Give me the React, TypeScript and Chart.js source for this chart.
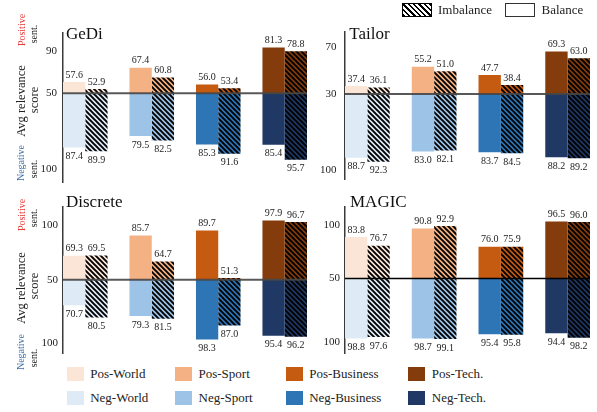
import React, { useEffect, useRef } from 'react';
import { Chart, registerables } from 'chart.js';

Chart.register(...registerables);

const FONT = '"Liberation Serif", "Times New Roman", "DejaVu Serif", serif';

// ---------- data ----------
const categories = ['World', 'Sport', 'Business', 'Tech.'];
const posColors = ['#fbe5d6', '#f4b183', '#c55a11', '#843c0c'];
const negColors = ['#deebf7', '#9dc3e6', '#2e75b6', '#1f3864'];

const gediPosBalance = [57.6, 67.4, 56.0, 81.3];
const gediPosImbalance = [52.9, 60.8, 53.4, 78.8];
const gediNegBalance = [87.4, 79.5, 85.3, 85.4];
const gediNegImbalance = [89.9, 82.5, 91.6, 95.7];
const gediTickLabels = ['100', '50', '90'];
const gediTickValues = [-52, 0, 29.2];

const tailorPosBalance = [37.4, 55.2, 47.7, 69.3];
const tailorPosImbalance = [36.1, 51.0, 38.4, 63.0];
const tailorNegBalance = [88.7, 83.0, 83.7, 88.2];
const tailorNegImbalance = [92.3, 82.1, 84.5, 89.2];
const tailorTickLabels = ['100', '30', '70'];
const tailorTickValues = [-70.5, 0, 43.4];

const discretePosBalance = [69.3, 85.7, 89.7, 97.9];
const discretePosImbalance = [69.5, 64.7, 51.3, 96.7];
const discreteNegBalance = [70.7, 79.3, 98.3, 95.4];
const discreteNegImbalance = [80.5, 81.5, 87.0, 96.2];
const discreteTickLabels = ['100', '50', '100'];
const discreteTickValues = [-51.4, 0, 44.3];

const magicPosBalance = [83.8, 90.8, 76.0, 96.5];
const magicPosImbalance = [76.7, 92.9, 75.9, 96.0];
const magicNegBalance = [98.8, 98.7, 95.4, 94.4];
const magicNegImbalance = [97.6, 99.1, 95.8, 98.2];
const magicTickLabels = ['100', '50', '100'];
const magicTickValues = [-52.1, 0, 43.5];

// ---------- panel configs ----------
type PanelCfg = {
  title: string;
  base: number;
  posBal: number[];
  posImb: number[];
  negBal: number[];
  negImb: number[];
  tickLabels: string[];
  tickValues: number[];
  yMin: number;
  yMax: number;
  x: number;
  y: number;
  w: number;
  h: number;
  pad: { top: number; bottom: number; right: number; left: number };
  axisW: number;
  tickPad: number;
  titleDx: number;
  titleDy: number;
  lineColor: string;
  lineW: number;
};

const panels: PanelCfg[] = [
  {
    title: 'GeDi', base: 50,
    posBal: gediPosBalance, posImb: gediPosImbalance, negBal: gediNegBalance, negImb: gediNegImbalance,
    tickLabels: gediTickLabels, tickValues: gediTickValues,
    yMin: -61.33, yMax: 41.33,
    x: 0, y: 0, w: 312, h: 195, pad: { top: 33, bottom: 8, right: 5, left: 0 },
    axisW: 63, tickPad: 6, titleDx: 3, titleDy: 6.3,
    lineColor: 'rgba(70,70,70,0.9)', lineW: 2,
  },
  {
    title: 'Tailor', base: 30,
    posBal: tailorPosBalance, posImb: tailorPosImbalance, negBal: tailorNegBalance, negImb: tailorNegImbalance,
    tickLabels: tailorTickLabels, tickValues: tailorTickValues,
    yMin: -79.1, yMax: 57.7,
    x: 312, y: 0, w: 285, h: 195, pad: { top: 31.5, bottom: 13, right: 7, left: 0 },
    axisW: 33, tickPad: 8.5, titleDx: 4.3, titleDy: 7.8,
    lineColor: 'rgba(70,70,70,0.9)', lineW: 2,
  },
  {
    title: 'Discrete', base: 50,
    posBal: discretePosBalance, posImb: discretePosImbalance, negBal: discreteNegBalance, negImb: discreteNegImbalance,
    tickLabels: discreteTickLabels, tickValues: discreteTickValues,
    yMin: -59.6, yMax: 59.1,
    x: 0, y: 195, w: 312, h: 170, pad: { top: 11, bottom: 7, right: 5, left: 0 },
    axisW: 63, tickPad: 5, titleDx: 3, titleDy: 0.7,
    lineColor: 'rgba(70,70,70,0.9)', lineW: 2,
  },
  {
    title: 'MAGIC', base: 50,
    posBal: magicPosBalance, posImb: magicPosImbalance, negBal: magicNegBalance, negImb: magicNegImbalance,
    tickLabels: magicTickLabels, tickValues: magicTickValues,
    yMin: -60.9, yMax: 58.6,
    x: 312, y: 195, w: 285, h: 170, pad: { top: 10, bottom: 7, right: 7, left: 0 },
    axisW: 33, tickPad: 5, titleDx: 5, titleDy: 0.7,
    lineColor: '#000', lineW: 1.5,
  },
];

function makeHatch(color: string): CanvasPattern | string {
  const s = 5;
  const c = document.createElement('canvas');
  c.width = s;
  c.height = s;
  const g = c.getContext('2d');
  if (!g) return color;
  g.fillStyle = color;
  g.fillRect(0, 0, s, s);
  g.strokeStyle = '#000';
  g.lineWidth = 1.9;
  g.beginPath();
  for (let k = -1; k <= 1; k++) {
    g.moveTo(k * s - 1, -1);
    g.lineTo(k * s + s + 1, s + 1);
  }
  g.stroke();
  return g.createPattern(c, 'repeat') || color;
}

function PanelChart({ cfg }: { cfg: PanelCfg }) {
  const ref = useRef<HTMLCanvasElement>(null);
  useEffect(() => {
    const canvas = ref.current;
    if (!canvas) return;
    const toPos = (arr: number[]) => arr.map((v, i) => ({ x: i, y: v - cfg.base }));
    const toNeg = (arr: number[]) => arr.map((v, i) => ({ x: i, y: -(v - cfg.base) }));

    const datasets: any[] = [
      { label: 'Balance pos', data: toPos(cfg.posBal), raw: cfg.posBal, side: 'pos', stack: 'bal', backgroundColor: posColors },
      { label: 'Balance neg', data: toNeg(cfg.negBal), raw: cfg.negBal, side: 'neg', stack: 'bal', backgroundColor: negColors },
      { label: 'Imbalance pos', data: toPos(cfg.posImb), raw: cfg.posImb, side: 'pos', stack: 'imb', backgroundColor: posColors.map(makeHatch) },
      { label: 'Imbalance neg', data: toNeg(cfg.negImb), raw: cfg.negImb, side: 'neg', stack: 'imb', backgroundColor: negColors.map(makeHatch) },
    ];

    const baselinePlugin = {
      id: 'baseline',
      afterDatasetsDraw(chart: any) {
        const { ctx, chartArea, scales } = chart;
        const y = scales.y.getPixelForValue(0);
        ctx.save();
        ctx.strokeStyle = cfg.lineColor;
        ctx.lineWidth = cfg.lineW;
        ctx.beginPath();
        ctx.moveTo(chartArea.left, y);
        ctx.lineTo(chartArea.right, y);
        ctx.stroke();
        ctx.restore();
      },
    };

    const labelPlugin = {
      id: 'valueLabels',
      afterDatasetsDraw(chart: any) {
        const ctx = chart.ctx;
        ctx.save();
        ctx.font = `10px ${FONT}`;
        ctx.fillStyle = '#222';
        ctx.textAlign = 'center';
        chart.data.datasets.forEach((ds: any, di: number) => {
          const meta = chart.getDatasetMeta(di);
          meta.data.forEach((el: any, i: number) => {
            const txt = Number(ds.raw[i]).toFixed(1);
            if (ds.side === 'pos') {
              ctx.textBaseline = 'bottom';
              ctx.fillText(txt, el.x, el.y - 2);
            } else {
              ctx.textBaseline = 'top';
              ctx.fillText(txt, el.x, el.y + 4);
            }
          });
        });
        ctx.restore();
      },
    };

    const titlePlugin = {
      id: 'panelTitle',
      afterDraw(chart: any) {
        const { ctx, chartArea } = chart;
        ctx.save();
        ctx.font = `17px ${FONT}`;
        ctx.fillStyle = '#111';
        ctx.textAlign = 'left';
        ctx.textBaseline = 'alphabetic';
        ctx.fillText(cfg.title, chartArea.left + cfg.titleDx, chartArea.top + cfg.titleDy);
        ctx.restore();
      },
    };

    const chart = new Chart(canvas, {
      type: 'bar',
      data: { labels: categories, datasets },
      options: {
        animation: false,
        responsive: false,
        events: [],
        layout: { padding: cfg.pad },
        datasets: { bar: { categoryPercentage: 0.67, barPercentage: 1, borderWidth: 0 } } as any,
        scales: {
          x: {
            type: 'linear',
            display: false,
            offset: false,
            min: -0.335,
            max: 3.335,
          },
          y: {
            type: 'linear',
            min: cfg.yMin,
            max: cfg.yMax,
            grid: { display: false, drawTicks: false },
            border: { display: true, color: '#3a3a3a', width: 1.5 },
            ticks: {
              padding: cfg.tickPad,
              color: '#222',
              autoSkip: false,
              font: { family: FONT, size: 11 },
              callback: (_v: any, i: number) => cfg.tickLabels[i],
            },
            afterBuildTicks: (s: any) => {
              s.ticks = cfg.tickValues.map((v) => ({ value: v }));
            },
            afterFit: (s: any) => {
              s.width = cfg.axisW;
            },
          } as any,
        },
        plugins: {
          legend: { display: false },
          tooltip: { enabled: false },
          title: { display: false },
        },
      } as any,
      plugins: [baselinePlugin, labelPlugin, titlePlugin],
    });
    return () => chart.destroy();
  }, [cfg]);

  return (
    <canvas
      ref={ref}
      width={cfg.w}
      height={cfg.h}
      style={{ position: 'absolute', left: cfg.x, top: cfg.y, width: cfg.w, height: cfg.h }}
    />
  );
}

function VText({ text, x, y, size, color }: { text: string; x: number; y: number; size: number; color: string }) {
  return (
    <div
      style={{
        position: 'absolute',
        left: x,
        top: y,
        transform: 'translate(-50%, -50%) rotate(-90deg)',
        whiteSpace: 'nowrap',
        fontSize: size,
        lineHeight: 1,
        color,
        fontFamily: FONT,
      }}
    >
      {text}
    </div>
  );
}

function SideLabels({ dy, posY, negY, sentPosY, sentNegY, avgY, scoreY }: any) {
  return (
    <>
      <VText text="Positive" x={21.5} y={posY + dy} size={10} color="#e53935" />
      <VText text="sent." x={33.5} y={sentPosY + dy} size={10} color="#222" />
      <VText text="Avg relevance" x={20.5} y={avgY + dy} size={12.5} color="#222" />
      <VText text="score" x={34} y={scoreY + dy} size={12.5} color="#222" />
      <VText text="Negative" x={21} y={negY + dy} size={10} color="#3d6fa8" />
      <VText text="sent." x={33.5} y={sentNegY + dy} size={10} color="#222" />
    </>
  );
}

const legendColLefts = [66.7, 175, 285.7, 408.3];
const legendRowTops = [367, 391];

export default function App() {
  useEffect(() => {
    document.body.style.margin = '0';
  }, []);
  const hatchCss = 'repeating-linear-gradient(45deg, #000 0px, #000 1.6px, #fff 1.6px, #fff 3.8px)';
  return (
    <div
      style={{
        position: 'fixed',
        left: 0,
        top: 0,
        width: 597,
        height: 412,
        background: '#fff',
        overflow: 'hidden',
        fontFamily: FONT,
      }}
    >
      {panels.map((p) => (
        <PanelChart key={p.title} cfg={p} />
      ))}

      <SideLabels dy={0} posY={30} sentPosY={33.5} avgY={101} scoreY={99.5} negY={162.5} sentNegY={168.5} />
      <SideLabels dy={0} posY={215} sentPosY={218} avgY={287.5} scoreY={285.7} negY={352} sentNegY={358} />

      {/* top legend */}
      <div style={{ position: 'absolute', left: 401.7, top: 3.3, width: 30, height: 13.3, boxSizing: 'border-box', border: '1px solid #000', background: hatchCss }} />
      <div style={{ position: 'absolute', left: 438, top: 3, height: 14, lineHeight: '14px', fontSize: 13, color: '#222' }}>Imbalance</div>
      <div style={{ position: 'absolute', left: 505, top: 3.3, width: 29.5, height: 13.3, boxSizing: 'border-box', border: '1px solid #333', background: '#fff' }} />
      <div style={{ position: 'absolute', left: 541.5, top: 3, height: 14, lineHeight: '14px', fontSize: 13, color: '#222' }}>Balance</div>

      {/* bottom legend */}
      {['Pos', 'Neg'].map((side, r) =>
        categories.map((c, i) => (
          <React.Fragment key={side + c}>
            <div
              style={{
                position: 'absolute',
                left: legendColLefts[i],
                top: legendRowTops[r],
                width: 17,
                height: 14,
                background: side === 'Pos' ? posColors[i] : negColors[i],
              }}
            />
            <div
              style={{
                position: 'absolute',
                left: legendColLefts[i] + 23.5,
                top: legendRowTops[r],
                height: 14,
                lineHeight: '14px',
                fontSize: 13,
                color: '#222',
                whiteSpace: 'nowrap',
              }}
            >
              {`${side}-${c}`}
            </div>
          </React.Fragment>
        ))
      )}
    </div>
  );
}
